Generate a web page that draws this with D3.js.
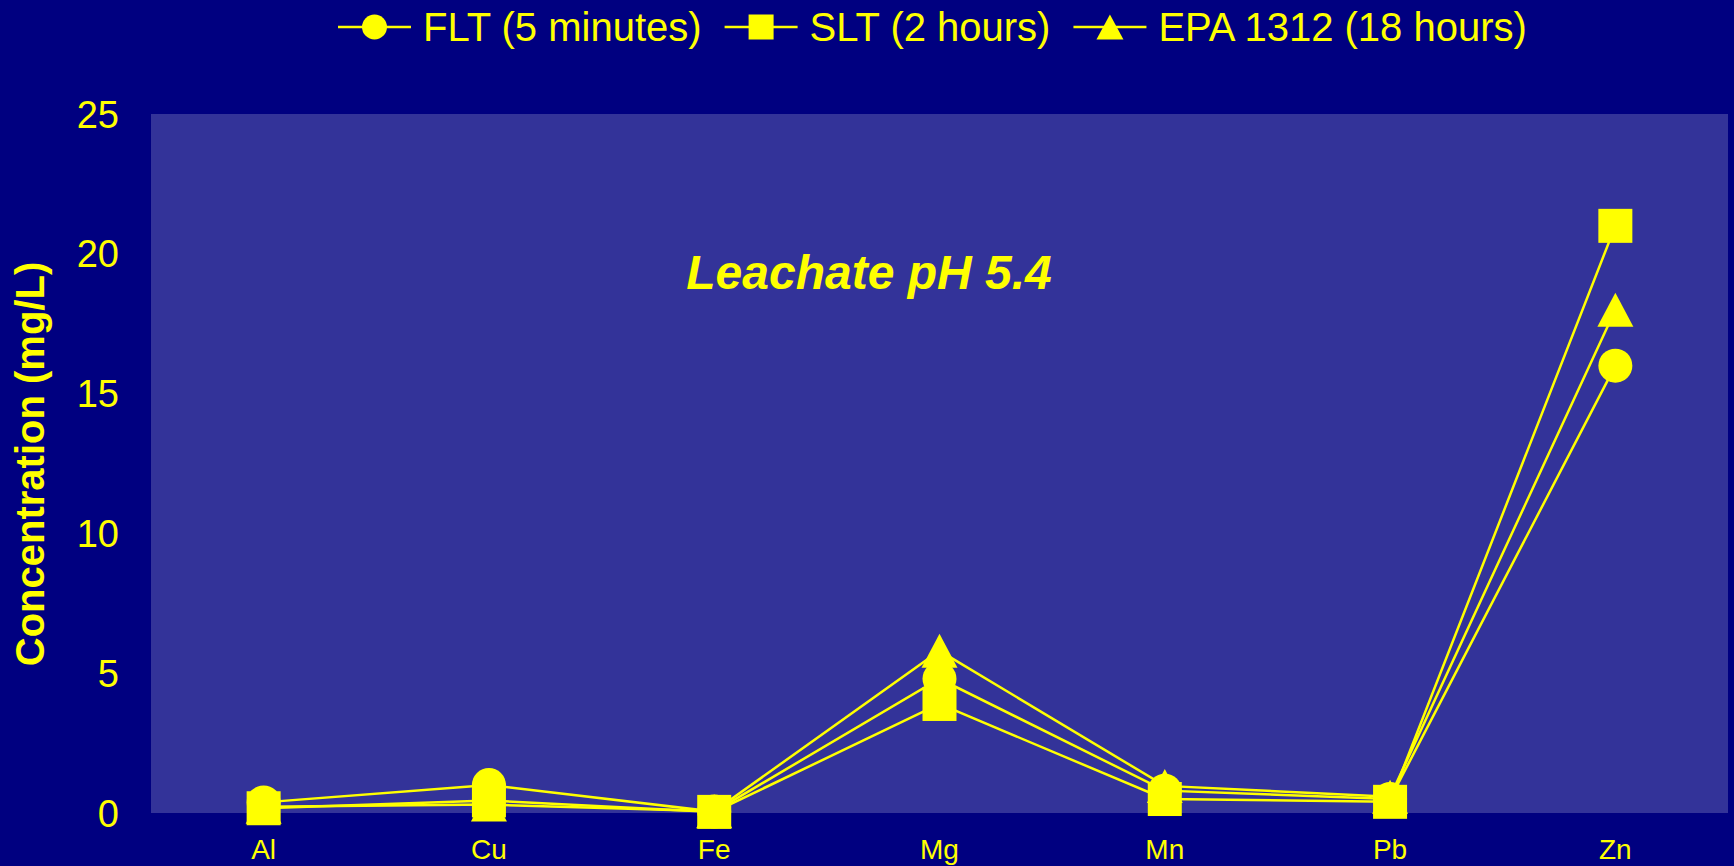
<!DOCTYPE html>
<html lang="en">
<head>
  <meta charset="UTF-8">
  <title>Leachate pH 5.4</title>
  <script src="https://d3js.org/d3.v7.min.js"></script>
  <style>
    body {
      margin: 0;
      background: #000080;
    }
    svg {
      display: block;
      font-family: "Liberation Sans", Arial, sans-serif;
    }
    .series path.line {
      fill: none;
      stroke: #ffff00;
      stroke-width: 2.5px;
    }
    .marker {
      fill: #ffff00;
    }
  </style>
</head>
<body>
  <div id="chart"></div>
  <script>
    // values (mg/L)
    const elements = ["Al", "Cu", "Fe", "Mg", "Mn", "Pb", "Zn"];
    const fltValues = [0.38, 1.0, 0.05, 4.8, 0.8, 0.5, 16.0];
    const sltValues = [0.17, 0.45, 0.04, 3.9, 0.5, 0.4, 21.0];
    const epaValues = [0.22, 0.3, 0.06, 5.8, 0.97, 0.58, 18.0];
    const seriesNames = ["FLT (5 minutes)", "SLT (2 hours)", "EPA 1312 (18 hours)"];
    const seriesShapes = ["circle", "square", "triangle"];
    const yTicks = [0, 5, 10, 15, 20, 25];

    const width = 1734,
          height = 866;

    const plot = { left: 151, right: 1728, top: 114, bottom: 813 };

    const svg = d3.select("#chart")
      .append("svg")
      .attr("width", width)
      .attr("height", height);

    const series = [fltValues, sltValues, epaValues].map((vals, i) => ({
      name: seriesNames[i],
      shape: seriesShapes[i],
      values: vals.map((v, j) => ({ el: elements[j], v: v }))
    }));

    const x = d3.scaleBand()
      .domain(elements)
      .range([plot.left, plot.right])
      .padding(0);

    const y = d3.scaleLinear()
      .domain([0, 25])
      .range([plot.bottom, plot.top]);

    const cx = d => x(d) + x.bandwidth() / 2;

    // plot area
    svg.append("rect")
      .attr("x", plot.left)
      .attr("y", plot.top)
      .attr("width", plot.right - plot.left)
      .attr("height", plot.bottom - plot.top)
      .attr("fill", "#333399");

    // y axis labels
    svg.append("g")
      .selectAll("text")
      .data(yTicks)
      .enter().append("text")
      .attr("x", 119)
      .attr("y", d => y(d))
      .attr("dy", "0.36em")
      .attr("text-anchor", "end")
      .attr("fill", "#ffff00")
      .style("font-size", "38px")
      .text(d => d);

    // x axis labels
    svg.append("g")
      .selectAll("text")
      .data(elements)
      .enter().append("text")
      .attr("x", d => cx(d))
      .attr("y", 859)
      .attr("text-anchor", "middle")
      .attr("fill", "#ffff00")
      .style("font-size", "28px")
      .text(d => d);

    // y axis title
    svg.append("text")
      .attr("transform", "translate(44,464) rotate(-90)")
      .attr("text-anchor", "middle")
      .attr("fill", "#ffff00")
      .style("font-size", "40px")
      .style("font-weight", "bold")
      .text("Concentration (mg/L)");

    // chart note
    svg.append("text")
      .attr("x", 869)
      .attr("y", 289)
      .attr("text-anchor", "middle")
      .attr("fill", "#ffff00")
      .style("font-size", "48px")
      .style("font-weight", "bold")
      .style("font-style", "italic")
      .text("Leachate pH 5.4");

    function drawMarker(g, shape, px, py, size) {
      const h = size / 2;
      if (shape === "circle") {
        g.append("circle").attr("class", "marker")
          .attr("cx", px).attr("cy", py).attr("r", h);
      } else if (shape === "square") {
        g.append("rect").attr("class", "marker")
          .attr("x", px - h).attr("y", py - h)
          .attr("width", size).attr("height", size);
      } else {
        g.append("path").attr("class", "marker")
          .attr("d", `M${px},${py - h}L${px + h + 1},${py + h}L${px - h - 1},${py + h}Z`);
      }
    }

    const line = d3.line()
      .x(d => cx(d.el))
      .y(d => y(d.v));

    series.forEach(s => {
      const g = svg.append("g").attr("class", "series");
      g.append("path")
        .attr("class", "line")
        .attr("d", line(s.values));
      s.values.forEach(d => drawMarker(g, s.shape, cx(d.el), y(d.v), 34));
    });

    // legend
    const legend = svg.append("g").attr("class", "series");
    let lx = 338;
    const ly = 27;
    series.forEach(s => {
      legend.append("path")
        .attr("class", "line")
        .attr("d", `M${lx},${ly}L${lx + 73},${ly}`);
      drawMarker(legend, s.shape, lx + 36.5, ly, 25);
      const t = legend.append("text")
        .attr("x", lx + 85)
        .attr("y", ly)
        .attr("dy", "0.36em")
        .attr("fill", "#ffff00")
        .style("font-size", "40px")
        .text(s.name);
      lx = lx + 85 + t.node().getComputedTextLength() + 23;
    });
  </script>
</body>
</html>
